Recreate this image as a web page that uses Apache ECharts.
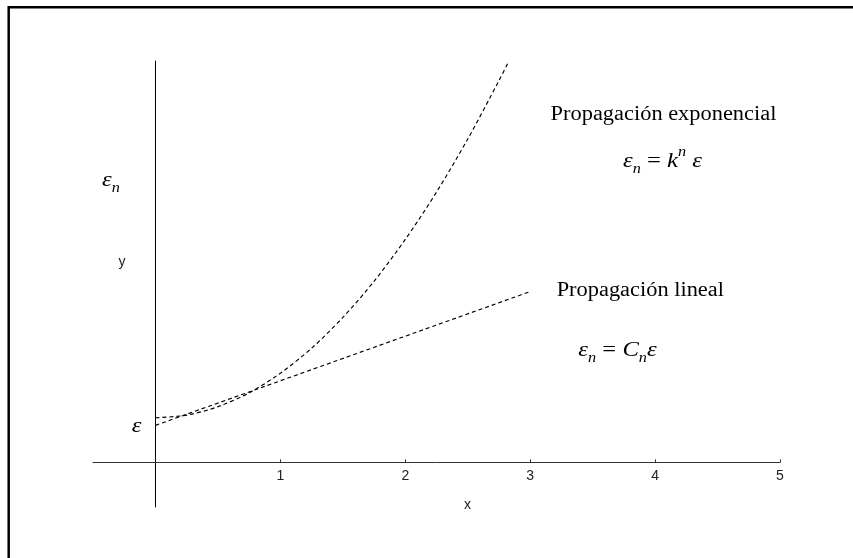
<!DOCTYPE html>
<html>
<head>
<meta charset="utf-8">
<script src="https://cdn.jsdelivr.net/npm/echarts@6/dist/echarts.min.js"></script>
<style>
  html, body { margin: 0; padding: 0; background: #fff; }
  #chart { width: 853px; height: 558px; }
</style>
</head>
<body>
<div id="chart"></div>
<script>
// Error growth: exponential propagation vs. linear propagation
const expX = [0, 0.25, 0.5, 0.75, 1.0, 1.25, 1.5, 1.75, 2.0, 2.25, 2.5, 2.75, 2.83];
const expY = [1.0, 1.06, 1.25, 1.56, 2.0, 2.56, 3.25, 4.06, 5.0, 6.06, 7.25, 8.56, 9.0];
const linX = [0, 1, 2, 3];
const linY = [0.83, 1.83, 2.83, 3.83];
const xTicks = [1, 2, 3, 4, 5];

const chart = echarts.init(document.getElementById('chart'), null, { renderer: 'canvas' });

const SERIF = '"Liberation Serif", "Times New Roman", serif';
const SANS = '"Liberation Sans", Arial, sans-serif';
const measureCtx = document.createElement('canvas').getContext('2d');

// Lays out a run of text pieces (with sub/superscripts) centred on (cx, cy)
function textRun(pieces, cx, cy, sx) {
  let x = 0;
  const kids = [];
  pieces.forEach(p => {
    const style = p.italic ? 'italic' : 'normal';
    measureCtx.font = style + ' ' + p.size + 'px ' + SERIF;
    const w = measureCtx.measureText(p.t).width;
    kids.push({
      type: 'text', x: x, y: p.dy || 0,
      style: {
        text: p.t, fontFamily: SERIF, fontSize: p.size, fontStyle: style,
        fill: '#000', align: 'left', verticalAlign: 'middle'
      }
    });
    x += w;
  });
  kids.forEach(k => { k.x -= x / 2; });
  return { type: 'group', x: cx, y: cy, scaleX: sx, children: kids };
}

const SX = 1.12;
const eps = { t: 'ε', italic: true, size: 22 };
const subN = { t: 'n', italic: true, size: 14.5, dy: 8 };
const supN = { t: 'n', italic: true, size: 14.5, dy: -9 };
const eq = { t: ' = ', italic: false, size: 22 };
const sp = { t: ' ', italic: false, size: 22 };

const option = {
  backgroundColor: '#fff',
  animation: false,
  grid: [
    // full plotting area: y from -1 to 9
    { left: 93, right: 73, top: 61, bottom: 51 },
    // upper part (y >= 0), used to place the x tick labels under the zero line
    { left: 93, right: 73, top: 61, bottom: 95 }
  ],
  xAxis: [
    {
      type: 'value', min: -0.5, max: 5, gridIndex: 0,
      axisLine: { onZero: true, lineStyle: { color: '#333', width: 1 } },
      axisTick: { show: true, inside: true, length: 3, customValues: xTicks, lineStyle: { color: '#333' } },
      axisLabel: { show: false },
      splitLine: { show: false }
    },
    {
      type: 'value', min: -0.5, max: 5, gridIndex: 1,
      axisLine: { show: false },
      axisTick: { show: false },
      axisLabel: { customValues: xTicks, fontSize: 14, fontFamily: SANS, color: '#222', margin: 6 },
      splitLine: { show: false }
    }
  ],
  yAxis: [
    {
      type: 'value', min: -1, max: 9, gridIndex: 0,
      axisLine: { show: true, onZero: true, lineStyle: { color: '#000', width: 1 } },
      axisTick: { show: false },
      axisLabel: { show: false },
      splitLine: { show: false }
    },
    {
      type: 'value', min: 0, max: 9, gridIndex: 1, show: false
    }
  ],
  series: [
    {
      name: 'Propagación exponencial', type: 'line', smooth: 0.3, symbol: 'none',
      xAxisIndex: 0, yAxisIndex: 0,
      data: expX.map((x, i) => [x, expY[i]]),
      lineStyle: { color: '#000', width: 1.15, type: [4, 3] }
    },
    {
      name: 'Propagación lineal', type: 'line', symbol: 'none',
      xAxisIndex: 0, yAxisIndex: 0,
      data: linX.map((x, i) => [x, linY[i]]),
      lineStyle: { color: '#000', width: 1.15, type: [4, 3] }
    }
  ],
  graphic: [
    { type: 'rect', shape: { x: 8.7, y: 7.2, width: 1000, height: 1000 },
      style: { fill: 'none', stroke: '#000', lineWidth: 2.5 }, silent: true },
    textRun([{ t: 'Propagación exponencial', size: 20 }], 663.5, 115, SX),
    textRun([eps, subN, eq, { t: 'k', italic: true, size: 22 }, supN, sp, eps], 662.5, 161, SX),
    textRun([{ t: 'Propagación lineal', size: 20 }], 640.3, 291, SX),
    textRun([eps, subN, eq, { t: 'C', italic: true, size: 22 }, subN, eps], 617.5, 350, SX),
    textRun([eps, subN], 111, 180, SX),
    textRun([eps], 136.7, 426, SX),
    { type: 'text', x: 122, y: 262,
      style: { text: 'y', fontFamily: SANS, fontSize: 14, fill: '#222', align: 'center', verticalAlign: 'middle' } },
    { type: 'text', x: 467.5, y: 505,
      style: { text: 'x', fontFamily: SANS, fontSize: 14, fill: '#222', align: 'center', verticalAlign: 'middle' } }
  ]
};

chart.setOption(option);
</script>
</body>
</html>
